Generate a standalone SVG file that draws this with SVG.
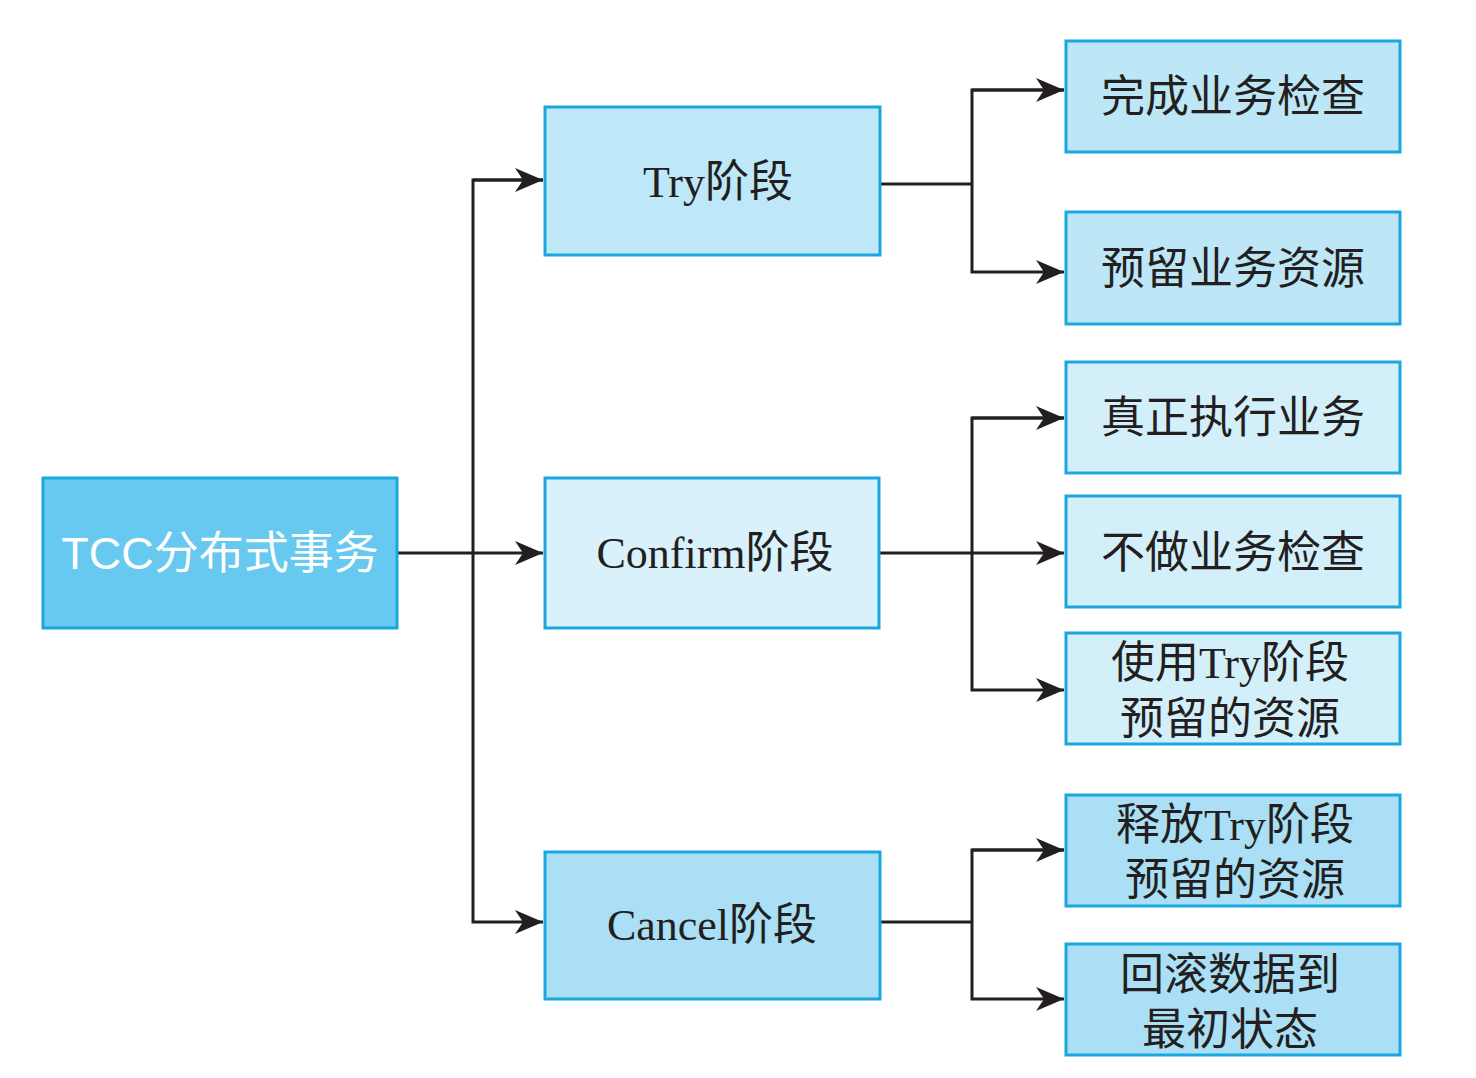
<svg xmlns="http://www.w3.org/2000/svg" width="1476" height="1078" viewBox="0 0 1476 1078">
<style>
.box{stroke:#1aa7df;stroke-width:3}
.t{font-family:"Liberation Serif","Noto Sans CJK SC",serif;font-size:44px;fill:#231f20;text-anchor:middle}
.w{font-family:"Liberation Sans","Noto Sans CJK SC",sans-serif;font-size:45px;fill:#ffffff;text-anchor:middle}
.c{fill:none;stroke:#231f20;stroke-width:3}
</style>
<defs>
<marker id="ah" markerUnits="userSpaceOnUse" markerWidth="30" markerHeight="24" refX="28" refY="12" orient="auto">
<path d="M0,0 L28,12 L0,24 L8,12 Z" fill="#231f20"/>
</marker>
</defs>
<rect width="1476" height="1078" fill="#ffffff"/>
<g id="connectors">
<path class="c" d="M397,553 H543" marker-end="url(#ah)"/>
<path class="c" d="M543,180 H473 V922 H543" marker-end="url(#ah)"/>
<path class="c" d="M473,180 H543" marker-end="url(#ah)"/>
<path class="c" d="M880,184 H972"/>
<path class="c" d="M1064,90 H972 V272 H1064" marker-end="url(#ah)"/>
<path class="c" d="M972,90 H1064" marker-end="url(#ah)"/>
<path class="c" d="M879,553 H1064" marker-end="url(#ah)"/>
<path class="c" d="M1064,418 H972 V690 H1064" marker-end="url(#ah)"/>
<path class="c" d="M972,418 H1064" marker-end="url(#ah)"/>
<path class="c" d="M880,922 H972"/>
<path class="c" d="M1064,850 H972 V999 H1064" marker-end="url(#ah)"/>
<path class="c" d="M972,850 H1064" marker-end="url(#ah)"/>
</g>
<g id="root"><rect class="box" x="43" y="478" width="354" height="150" fill="#68c9f0"/><text class="w" x="220" y="569">TCC分布式事务</text></g>
<g id="try"><rect class="box" x="545" y="107" width="335" height="148" fill="#bee8f8"/><text class="t" x="718" y="197">Try阶段</text></g>
<g id="confirm"><rect class="box" x="545" y="478" width="334" height="150" fill="#d9f1fb"/><text class="t" x="715" y="568">Confirm阶段</text></g>
<g id="cancel"><rect class="box" x="545" y="852" width="335" height="147" fill="#aadff5"/><text class="t" x="712" y="940">Cancel阶段</text></g>
<g id="r1"><rect class="box" x="1066" y="41" width="334" height="111" fill="#bde7f7"/><text class="t" x="1233" y="112">完成业务检查</text></g>
<g id="r2"><rect class="box" x="1066" y="212" width="334" height="112" fill="#bde7f7"/><text class="t" x="1233" y="284">预留业务资源</text></g>
<g id="r3"><rect class="box" x="1066" y="362" width="334" height="111" fill="#d3effa"/><text class="t" x="1233" y="433">真正执行业务</text></g>
<g id="r4"><rect class="box" x="1066" y="496" width="334" height="111" fill="#d3effa"/><text class="t" x="1233" y="568">不做业务检查</text></g>
<g id="r5"><rect class="box" x="1066" y="633" width="334" height="111" fill="#d3effa"/><text class="t" x="1230" y="678">使用Try阶段</text><text class="t" x="1230" y="734">预留的资源</text></g>
<g id="r6"><rect class="box" x="1066" y="795" width="334" height="111" fill="#aadff5"/><text class="t" x="1235" y="840">释放Try阶段</text><text class="t" x="1235" y="895">预留的资源</text></g>
<g id="r7"><rect class="box" x="1066" y="944" width="334" height="111" fill="#aadff5"/><text class="t" x="1230" y="990">回滚数据到</text><text class="t" x="1230" y="1045">最初状态</text></g>
</svg>
